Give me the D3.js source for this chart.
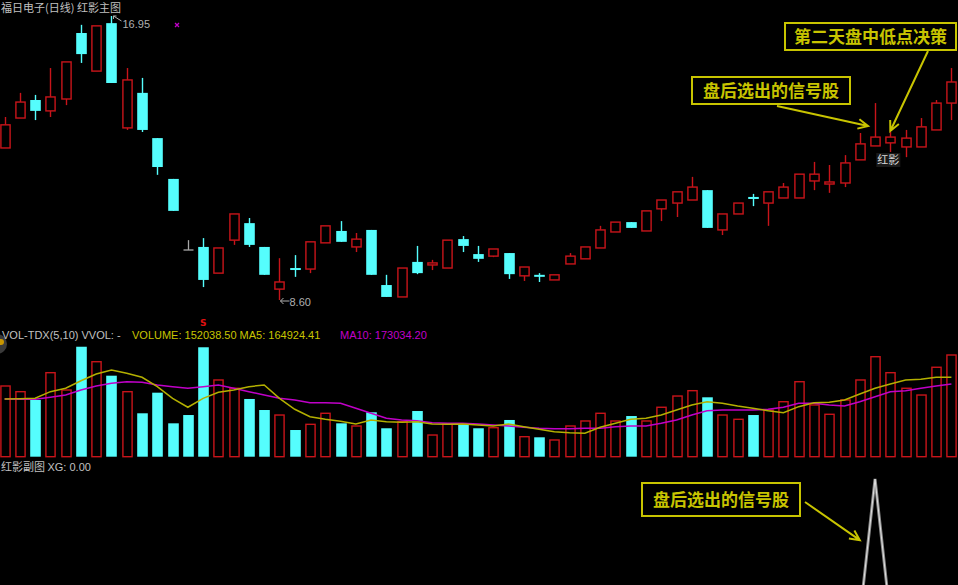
<!DOCTYPE html>
<html><head><meta charset="utf-8">
<script src="https://cdn.jsdelivr.net/npm/d3@7"></script>
<style>
html,body{margin:0;padding:0;background:#000;overflow:hidden;}
svg{display:block;}
</style></head>
<body>
<svg id="c" width="958" height="585"></svg>
<script>
// ---- data ----
const openP  = [13.07,13.95,14.48,14.16,14.51,16.45,15.33,16.74,13.66,14.69,13.36,12.16,10.07,10.16,9.39,10.36,10.86,10.16,8.92,9.54,9.51,10.28,10.63,10.16,10.66,9.04,8.69,9.72,9.63,9.54,10.39,9.95,9.89,9.98,9.31,9.34,9.19,9.66,9.81,10.13,10.60,10.89,10.63,11.28,11.45,11.54,11.83,10.66,11.13,11.63,11.45,11.60,11.60,12.10,12.01,12.04,12.72,13.13,13.22,13.10,13.10,13.60,14.39];
const highP  = [13.98,14.69,14.63,15.42,15.60,16.69,16.66,16.95,15.42,15.13,13.36,12.16,10.36,10.42,10.13,11.13,11.01,10.16,9.83,9.92,10.31,10.78,10.92,10.57,10.66,9.34,9.54,10.19,9.78,10.36,10.48,10.19,10.10,9.98,9.57,9.39,9.34,9.98,10.16,10.78,10.89,10.89,11.22,11.54,11.78,12.22,11.83,11.13,11.45,11.72,11.78,12.04,12.30,12.66,12.57,12.86,13.51,14.39,13.54,13.60,13.95,14.48,15.42];
const lowP   = [13.07,13.95,13.89,13.98,14.33,15.57,15.33,14.98,13.60,13.54,12.28,11.22,10.07,8.98,9.39,10.22,10.16,9.34,8.60,9.28,9.39,10.28,10.31,10.01,9.34,8.69,8.69,9.36,9.48,9.54,10.01,9.72,9.86,9.22,9.16,9.13,9.19,9.66,9.81,10.13,10.60,10.72,10.63,10.92,11.04,11.54,10.72,10.51,11.13,11.36,10.78,11.60,11.60,11.83,11.75,11.92,12.72,13.13,12.95,12.80,13.10,13.60,13.89];
const closeP = [13.75,14.42,14.16,14.57,15.60,15.83,16.66,14.98,15.07,13.60,12.51,11.22,10.07,9.19,10.13,11.13,10.22,9.34,9.13,9.51,10.31,10.78,10.31,10.39,9.34,8.69,9.54,9.39,9.69,10.36,10.19,9.81,10.10,9.36,9.57,9.30,9.34,9.89,10.16,10.66,10.89,10.72,11.22,11.54,11.78,11.92,10.72,11.13,11.45,11.57,11.78,11.92,12.30,12.30,12.07,12.63,13.19,13.39,13.39,13.36,13.69,14.39,15.01];
const volume = [105700,97200,84800,125600,99700,164400,142000,121100,97200,64900,95700,49900,62300,163600,114700,102300,86300,69800,62300,39900,48400,64900,49900,45900,66400,42500,52300,68300,32400,48900,49900,42500,43400,54900,29900,29000,25000,45900,53400,64900,53400,60800,53400,73900,90700,98700,88800,62300,55900,62300,69800,82200,112100,77300,63400,84800,114700,149500,125600,102300,92200,133700,152038.5];
const ma5 = [86300,86700,87300,97200,102300,113600,123600,129600,124700,118700,104700,87300,73900,87300,96300,99700,104700,107200,87300,70900,59800,55900,52900,48900,54900,52300,51400,52300,48900,48400,48900,47400,45900,48900,44900,41000,37400,35900,35000,44000,49900,55900,57400,62300,69800,77300,82200,79800,75800,72400,68800,65800,74800,80700,81300,84800,93700,102300,108700,114700,115700,118700,118700];
const ma10 = [86300,85800,85800,88800,92200,99700,105700,109700,112100,111200,107200,104700,102300,104700,107200,102300,97200,92200,87300,84800,80700,80700,79800,72400,64900,57400,54900,53800,50800,49900,49900,48900,47400,45900,44000,42500,41900,41900,42500,42500,44900,45900,45900,49900,54900,62300,68800,69800,69800,69800,70900,73900,79800,79800,77300,75800,82200,89700,97200,98700,102300,105700,108700];
const xg = [0,0,0,0,0,0,0,0,0,0,0,0,0,0,0,0,0,0,0,0,0,0,0,0,0,0,0,0,0,0,0,0,0,0,0,0,0,0,0,0,0,0,0,0,0,0,0,0,0,0,0,0,0,0,0,0,0,1,0,0,0,0,0];
const volLabel = {vol:"152038.50", ma5:"164924.41", ma10:"173034.20"};
const titleText = "福日电子(日线) 红影主图";
const subTitle = "红影副图";

// ---- drawing ----
const svg = d3.select("#c");
const W = 958, H = 585;
const RED = "#c8141a", CYAN = "#55fdfd", GREY = "#c0c0c0", YEL = "#c8c400", MAG = "#c000c8";
const n = closeP.length;
const kind = d3.range(n).map(i => closeP[i] > openP[i] ? "u" : (closeP[i] < openP[i] ? "d" : "f"));
const x = d3.scaleLinear().domain([0, n-1]).range([4.6, 951.4]);
const yP = d3.scaleLinear().domain([8.60, 16.95]).range([300, 16]);
const yV = d3.scaleLinear().domain([0, 174467]).range([456.7, 340]);
const yX = d3.scaleLinear().domain([0, 1]).range([618, 479]);
const bw = 10.6;
const idx = d3.range(n);
const cf = "'Noto Sans CJK SC','DejaVu Sans',sans-serif";

svg.append("rect").attr("width",W).attr("height",H).attr("fill","#000");

// candles
const cg = svg.append("g");
idx.forEach(i => {
  const cx = Math.round(x(i)) + 0.5;
  const k = kind[i];
  const top = yP(Math.max(openP[i], closeP[i]));
  const bot = yP(Math.min(openP[i], closeP[i]));
  if (k === "u") {
    const h = Math.max(bot - top, 2);
    cg.append("line").attr("x1",cx).attr("x2",cx).attr("y1",yP(highP[i])).attr("y2",top).attr("stroke",RED).attr("stroke-width",1.4);
    cg.append("line").attr("x1",cx).attr("x2",cx).attr("y1",top+h).attr("y2",yP(lowP[i])).attr("stroke",RED).attr("stroke-width",1.4);
    cg.append("rect").attr("x",cx-bw/2+0.7).attr("y",top).attr("width",bw-1.4).attr("height",h)
      .attr("fill","#000").attr("stroke",RED).attr("stroke-width",1.4);
  } else if (k === "d") {
    const h = Math.max(bot - top, 2);
    cg.append("line").attr("x1",cx).attr("x2",cx).attr("y1",yP(highP[i])).attr("y2",yP(lowP[i])).attr("stroke",CYAN).attr("stroke-width",1.4);
    cg.append("rect").attr("x",cx-bw/2).attr("y",top).attr("width",bw).attr("height",h).attr("fill",CYAN);
  } else {
    cg.append("line").attr("x1",cx).attr("x2",cx).attr("y1",yP(highP[i])).attr("y2",yP(lowP[i])).attr("stroke","#a8a8a8").attr("stroke-width",1.3);
    cg.append("line").attr("x1",cx-5).attr("x2",cx+5).attr("y1",top).attr("y2",top).attr("stroke","#a8a8a8").attr("stroke-width",1.3);
  }
});

// max / min price labels
const iMax = d3.maxIndex(highP), iMin = d3.minIndex(lowP);
{
  const px = x(iMax), py = yP(highP[iMax]);
  svg.append("path").attr("d",`M${px+2},${py} L${px+10},${py+5}`).attr("stroke","#b0b0b0").attr("fill","none");
  svg.append("path").attr("d",`M${px+2},${py+3} L${px+2},${py} L${px+5},${py}`).attr("stroke","#b0b0b0").attr("fill","none");
  svg.append("text").attr("x",px+11).attr("y",py+12).attr("fill","#b0b0b0").attr("font-size",11).attr("font-family","'Liberation Sans',sans-serif").text(highP[iMax].toFixed(2));
  const qx = x(iMin), qy = yP(lowP[iMin]);
  svg.append("line").attr("x1",qx+1).attr("x2",qx+10).attr("y1",qy+1).attr("y2",qy+1).attr("stroke","#b0b0b0");
  svg.append("path").attr("d",`M${qx+4},${qy-2} L${qx+1},${qy+1} L${qx+4},${qy+4}`).attr("stroke","#b0b0b0").attr("fill","none");
  svg.append("text").attr("x",qx+10).attr("y",qy+6).attr("fill","#b0b0b0").attr("font-size",11).attr("font-family","'Liberation Sans',sans-serif").text(lowP[iMin].toFixed(2));
}
// magenta marker
svg.append("path").attr("d","M175,23 L179,27 M179,23 L175,27").attr("stroke",MAG).attr("stroke-width",1.3);

// title
svg.append("text").attr("x",1).attr("y",12).attr("fill",GREY).attr("font-size",11).attr("font-family",cf).text(titleText);

// 红影 label under signal+1 candle
svg.append("rect").attr("x",x(58)-14).attr("y",yP(lowP[58])+1).attr("width",24).attr("height",14).attr("fill","#1a1a1a");
svg.append("text").attr("x",x(58)-2).attr("y",yP(lowP[58])+12).attr("text-anchor","middle").attr("fill","#d8d8d8").attr("font-size",11).attr("font-family",cf).text("红影");

// S marker
svg.append("text").attr("x",x(13)).attr("y",326).attr("text-anchor","middle").attr("fill","#e01010").attr("font-size",9).attr("font-weight","bold").attr("font-family","'DejaVu Sans',sans-serif").text("S");

// ---- volume panel ----
const vg = svg.append("g");
idx.forEach(i => {
  const cx = Math.round(x(i)) + 0.5;
  const t = yV(volume[i]), b = yV(0);
  if (kind[i] === "u") {
    vg.append("rect").attr("x",cx-bw/2+0.7).attr("y",t).attr("width",bw-1.4).attr("height",b-t)
      .attr("fill","none").attr("stroke",RED).attr("stroke-width",1.4);
  } else {
    vg.append("rect").attr("x",cx-bw/2).attr("y",t).attr("width",bw).attr("height",b-t).attr("fill",CYAN);
  }
});
const lineV = d3.line().x((d,i)=>x(i)).y(d=>yV(d)).curve(d3.curveLinear);
vg.append("path").datum(ma10).attr("d",lineV).attr("fill","none").attr("stroke",MAG).attr("stroke-width",1.5);
vg.append("path").datum(ma5).attr("d",lineV).attr("fill","none").attr("stroke","#b4b000").attr("stroke-width",1.5);

// volume label row
svg.append("circle").attr("cx",-3).attr("cy",344).attr("r",10).attr("fill","#3a3a3a");
svg.append("circle").attr("cx",1).attr("cy",342).attr("r",3).attr("fill","#c89600");
const vl = svg.append("text").attr("x",2).attr("y",339).attr("font-size",11).attr("font-family","'Liberation Sans',sans-serif");
vl.append("tspan").attr("fill",GREY).text("VOL-TDX(5,10) VVOL: -  ");
vl.append("tspan").attr("fill",YEL).attr("x",132).text(`VOLUME: ${volLabel.vol}  MA5: ${volLabel.ma5}`);
vl.append("tspan").attr("fill",MAG).attr("x",340).text(`MA10: ${volLabel.ma10}`);

// ---- bottom panel ----
const bl = svg.append("text").attr("x",1).attr("y",471).attr("font-size",11).attr("font-family",cf).attr("fill",GREY);
bl.append("tspan").text(subTitle + " ");
bl.append("tspan").attr("font-family","'Liberation Sans',sans-serif").text("XG: 0.00");
const lineX = d3.line().x((d,i)=>x(i)).y(d=>yX(d));
svg.append("path").datum(xg).attr("d",lineX).attr("fill","none").attr("stroke","#8a8a8a").attr("stroke-width",3);
svg.append("path").datum(xg).attr("d",lineX).attr("fill","none").attr("stroke","#e0e0e0").attr("stroke-width",1);

// ---- annotations ----
function note(bx, by, bwid, bh, label, fx, fy, tx, ty) {
  const g = svg.append("g");
  g.append("rect").attr("x",bx).attr("y",by).attr("width",bwid).attr("height",bh).attr("fill","#000").attr("stroke",YEL).attr("stroke-width",2);
  g.append("text").attr("x",bx+bwid/2).attr("y",by+bh/2+6).attr("text-anchor","middle").attr("fill",YEL)
    .attr("font-size",17).attr("font-weight","bold").attr("font-family",cf).text(label);
  const a = Math.atan2(ty-fy, tx-fx), L = 11, s = 0.45;
  g.append("path").attr("d",`M${fx},${fy} L${tx},${ty} M${tx-L*Math.cos(a-s)},${ty-L*Math.sin(a-s)} L${tx},${ty} L${tx-L*Math.cos(a+s)},${ty-L*Math.sin(a+s)}`)
    .attr("fill","none").attr("stroke",YEL).attr("stroke-width",2);
}
note(785, 23, 171, 27, "第二天盘中低点决策", 928, 51, x(58), yP(highP[58]) - 1);
note(692, 77, 158, 27, "盘后选出的信号股", 777, 106, x(57) - 7, yP(closeP[57]) - 11);
note(642, 483, 158, 33, "盘后选出的信号股", 805, 502, x(56), yX(0.56));
</script>
</body></html>
